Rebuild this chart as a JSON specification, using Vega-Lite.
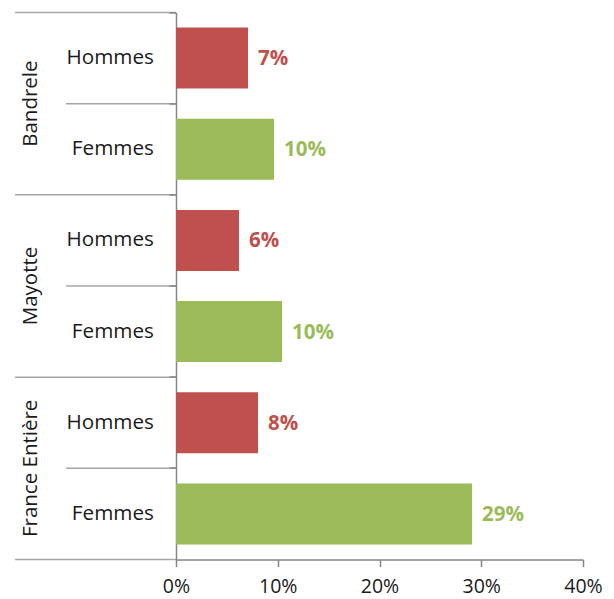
{
  "$schema": "https://vega.github.io/schema/vega-lite/v6.json",
  "padding": {"left": 14, "top": 11.5, "right": 30, "bottom": 40},
  "config": {"view": {"stroke": null}, "font": "Open Sans"},
  "bounds": "flush",
  "spacing": 0,
  "data": {"values": [
    {"row": "Bandrele|Hommes", "group": "Bandrele", "sex": "Hommes", "value": 0.0708},
    {"row": "Bandrele|Femmes", "group": "Bandrele", "sex": "Femmes", "value": 0.0963},
    {"row": "Mayotte|Hommes", "group": "Mayotte", "sex": "Hommes", "value": 0.0619},
    {"row": "Mayotte|Femmes", "group": "Mayotte", "sex": "Femmes", "value": 0.1042},
    {"row": "France|Hommes", "group": "France Entière", "sex": "Hommes", "value": 0.0806},
    {"row": "France|Femmes", "group": "France Entière", "sex": "Femmes", "value": 0.2909}
  ]},
  "hconcat": [
    {
      "width": 161,
      "height": 547,
      "encoding": {
        "y": {"field": "row", "type": "nominal", "axis": null,
          "scale": {"domain": ["Bandrele|Hommes", "Bandrele|Femmes", "Mayotte|Hommes", "Mayotte|Femmes", "France|Hommes", "France|Femmes"], "paddingInner": 0, "paddingOuter": 0}}
      },
      "layer": [
        {
          "transform": [{"filter": "datum.sex === 'Hommes'"}],
          "mark": {"type": "rule", "color": "#a6a6a6", "strokeWidth": 1.5},
          "encoding": {
            "y": {"field": "row", "type": "nominal", "bandPosition": 0},
            "x": {"datum": 0, "type": "quantitative", "scale": {"domain": [0, 1]}, "axis": null},
            "x2": {"datum": 1}
          }
        },
        {
          "transform": [{"filter": "datum.sex === 'Femmes'"}],
          "mark": {"type": "rule", "color": "#a6a6a6", "strokeWidth": 1.5},
          "encoding": {
            "y": {"field": "row", "type": "nominal", "bandPosition": 0},
            "x": {"datum": 0.317, "type": "quantitative"},
            "x2": {"datum": 1}
          }
        },
        {
          "transform": [{"filter": "datum.row === 'France|Femmes'"}],
          "mark": {"type": "rule", "color": "#a6a6a6", "strokeWidth": 1.5},
          "encoding": {
            "y": {"field": "row", "type": "nominal", "bandPosition": 1},
            "x": {"datum": 0, "type": "quantitative"},
            "x2": {"datum": 1}
          }
        },
        {
          "mark": {"type": "text", "align": "right", "baseline": "middle", "fontSize": 20.7, "color": "#1a1a1a"},
          "encoding": {
            "y": {"field": "row", "type": "nominal"},
            "x": {"datum": 0.863, "type": "quantitative"},
            "text": {"field": "sex"}
          }
        },
        {
          "transform": [{"filter": "datum.sex === 'Hommes'"}],
          "mark": {"type": "text", "align": "center", "baseline": "middle", "angle": 270, "fontSize": 20.5, "color": "#1a1a1a"},
          "encoding": {
            "y": {"field": "row", "type": "nominal", "bandPosition": 1},
            "x": {"datum": 0.1, "type": "quantitative"},
            "text": {"field": "group"}
          }
        }
      ]
    },
    {
      "width": 407,
      "height": 547,
      "encoding": {
        "y": {"field": "row", "type": "nominal",
          "scale": {"domain": ["Bandrele|Hommes", "Bandrele|Femmes", "Mayotte|Hommes", "Mayotte|Femmes", "France|Hommes", "France|Femmes"], "paddingInner": 0, "paddingOuter": 0},
          "axis": {"title": null, "labels": false, "bandPosition": 0, "tickSize": 7, "tickColor": "#868686", "domainColor": "#868686", "domainWidth": 1.5, "tickWidth": 1.5}
        },
        "x": {"field": "value", "type": "quantitative",
          "scale": {"domain": [0, 0.4]},
          "axis": {"title": null, "format": ".0%", "values": [0, 0.1, 0.2, 0.3, 0.4], "grid": false, "tickSize": 7, "tickColor": "#868686", "domainColor": "#868686", "domainWidth": 1.5, "tickWidth": 1.5, "labelFontSize": 19.5, "labelColor": "#1a1a1a", "labelPadding": 11, "labelFlush": false}
        },
        "color": {"field": "sex", "type": "nominal", "legend": null,
          "scale": {"domain": ["Hommes", "Femmes"], "range": ["#c0504d", "#9bbb59"]}}
      },
      "layer": [
        {"mark": {"type": "bar", "height": {"band": 0.67}}},
        {
          "mark": {"type": "text", "align": "left", "baseline": "middle", "dx": 10, "dy": 1, "fontSize": 20.5, "fontWeight": "bold"},
          "encoding": {"text": {"field": "value", "type": "quantitative", "format": ".0%"}}
        }
      ]
    }
  ]
}
